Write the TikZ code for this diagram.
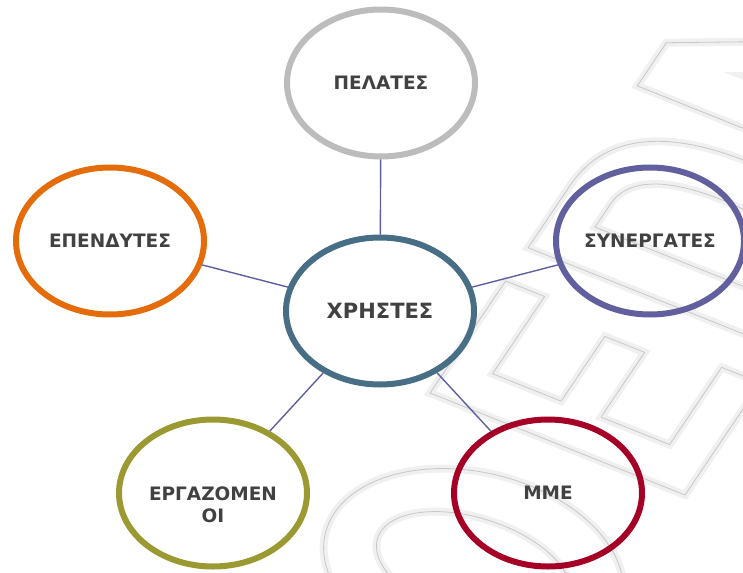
\documentclass[tikz,border=0pt]{standalone}
\usepackage{fontspec}
\newfontfamily\lblfont{DejaVu Sans}
\usetikzlibrary{shapes.geometric}

\definecolor{cgray}{HTML}{BCBCBC}
\definecolor{csteel}{HTML}{486E86}
\definecolor{corange}{HTML}{E46C0A}
\definecolor{cpurple}{HTML}{615F9D}
\definecolor{colive}{HTML}{9B9A32}
\definecolor{ccrimson}{HTML}{A50026}
\definecolor{clink}{HTML}{5E5FA0}
\definecolor{ctext}{HTML}{414141}

\tikzset{
  bubble/.style={ellipse, draw, line width=6pt, minimum width=188pt,
    minimum height=147pt, inner sep=0pt, text=ctext, align=center,
    font=\lblfont\bfseries\fontsize{18.5}{22}\selectfont},
  hub/.style={bubble, draw=csteel, font=\lblfont\bfseries\fontsize{21}{25}\selectfont},
  lbl/.style={inner sep=0pt, text=ctext, align=center,
    font=\lblfont\bfseries\fontsize{18.5}{22}\selectfont},
  link/.style={draw=clink, line width=1.4pt},
  wm/.style={draw=black!22, line width=0.8pt, line join=round,
    preaction={draw=black!6, line width=8pt}}
}

\begin{document}
\begin{tikzpicture}[x=1pt, y=-1pt]
\useasboundingbox (0,0) rectangle (743,572);

% faint outlined lettering in the background
\begin{scope}
  \clip (0,0) rectangle (743,572);
  \begin{scope}[shift={(685,495)}, x={(0.56pt,0.83pt)}, y={(-0.927pt,0.371pt)}]
    % round letter
    \draw[wm] (-150,137.5) ellipse [x radius=100, y radius=150];
    \draw[wm] (-150,137.5) ellipse [x radius=52, y radius=100];
    % letter with three arms
    \draw[wm] (0,0) -- (135,0) -- (135,42) -- (42,42) -- (42,116) -- (120,116)
      -- (120,159) -- (42,159) -- (42,233) -- (135,233) -- (135,275) -- (0,275) -- cycle;
    % letter with a bowl
    \draw[wm] (175,0) -- (175,275) -- (250,275) .. controls (315,275) and (340,220) .. (340,137)
      .. controls (340,55) and (315,0) .. (250,0) -- cycle;
    \draw[wm] (220,45) -- (220,230) -- (248,230) .. controls (282,230) and (294,190) .. (294,137)
      .. controls (294,85) and (282,45) .. (248,45) -- cycle;
    % letter with a diagonal
    \draw[wm] (370,0) -- (370,275) -- (422,275) -- (510,85) -- (510,275) -- (560,275)
      -- (560,0) -- (508,0) -- (420,190) -- (420,0) -- cycle;
  \end{scope}
\end{scope}

% outer bubbles and the hub
\node[hub] (users) at (380,311) {ΧΡΗΣΤΕΣ};
\node[bubble, draw=cgray] (cust) at (381,83) {ΠΕΛΑΤΕΣ};
\node[bubble, draw=corange] (inv) at (110,241) {ΕΠΕΝΔΥΤΕΣ};
\node[bubble, draw=cpurple] (part) at (650,241) {ΣΥΝΕΡΓΑΤΕΣ};
\node[bubble, draw=colive] (emp) at (213,493) {};
\node[lbl] (emptext) at (213,505) {ΕΡΓΑΖΟΜΕΝ\\ΟΙ};
\node[bubble, draw=ccrimson] (media) at (548,493) {ΜΜΕ};

% connectors from the hub
\draw[link] (users) -- (cust);
\draw[link] (users) -- (inv);
\draw[link] (users) -- (part);
\draw[link] (users) -- (emp);
\draw[link] (users) -- (media);
\end{tikzpicture}
\end{document}
